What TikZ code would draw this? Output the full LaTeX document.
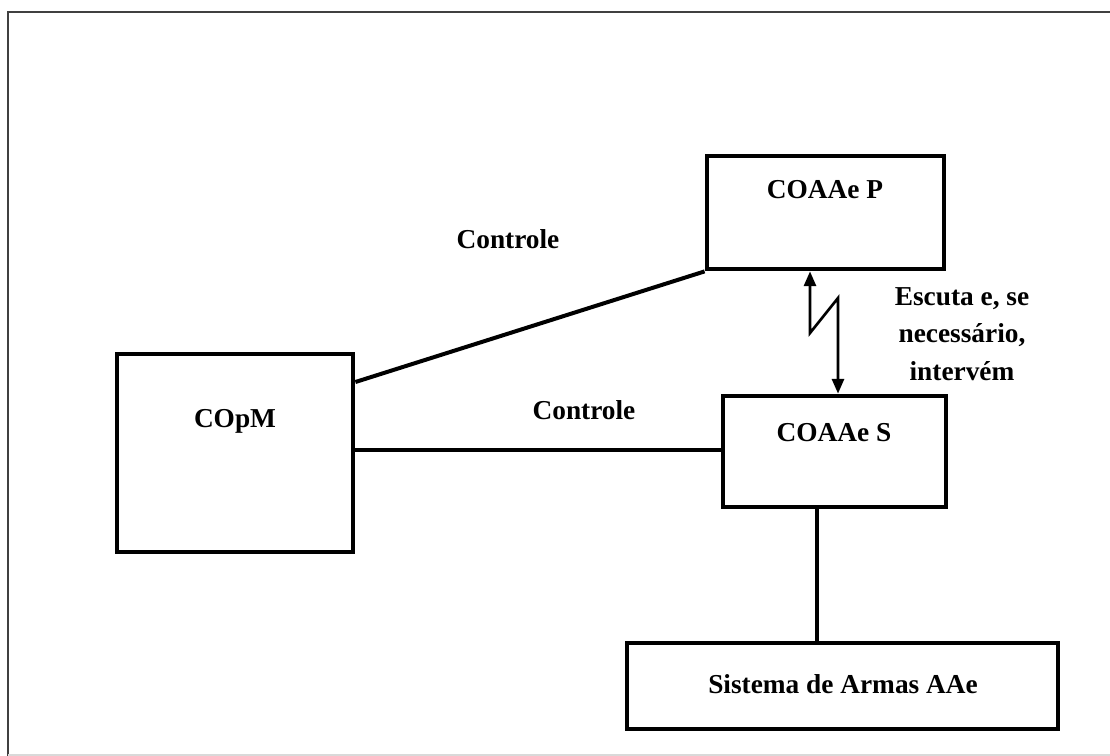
\documentclass[tikz,border=0pt]{standalone}
\usepackage{fontspec}
\setmainfont{Liberation Serif}
\usetikzlibrary{
  arrows.meta,
  calc,
  fit
}

\begin{document}
\begin{tikzpicture}[x=0.75pt,y=-0.75pt,
	box/.style={draw,line width=3.6pt,inner sep=0pt},
	link/.style={line width=3pt},
	zap/.style={line width=2pt,{Triangle[width=9pt,length=11pt]}-{Triangle[width=9pt,length=11pt]}},
	lbl/.style={anchor=base,font=\fontsize{20.5}{28}\selectfont\bfseries},
]
	\useasboundingbox (0,0) rectangle (1110,756);
	% frame round the drawing
	\draw[line width=1.6pt,black!75] (8,756) -- (8,12) -- (1110,12);
	\draw[line width=1pt,black!15] (8,755) -- (1110,755);

	% boxes
	\node[box,fit={(117,354) (353,552)}] (COpM) {};
	\node[box,fit={(707,156) (944,269)}] (COAAeP) {};
	\node[box,fit={(723,396) (946,507)}] (COAAeS) {};
	\node[box,fit={(627,643) (1058,729)}] (Armas) {};

	\node[lbl] (tCOpM) at (235,427) {COpM};
	\node[lbl] (tCOAAeP) at (825,199) {COAAe P};
	\node[lbl] (tCOAAeS) at (834,441) {COAAe S};
	\node[lbl] (tArmas) at (843,693) {Sistema de Armas AAe};

	% connectors
	\draw[link] ($(COpM.north east)!0.15!(COpM.south east)$) -- (COAAeP.south west);
	\draw[link] (COpM.east |- 0,450) -- (COAAeS.west |- 0,450);
	\draw[link] (817,0 |- COAAeS.south) -- (817,0 |- Armas.north);
	\draw[zap] (810,0 |- COAAeP.south) -- (810,333) -- (838,298) -- (838,0 |- COAAeS.north);

	\node[lbl] (ctrlP) at (508,248) {Controle};
	\node[lbl] (ctrlS) at (584,419) {Controle};
	% base of a multi-line node sits on its last line
	\node[lbl,align=center] (escuta) at (962,380) {Escuta e, se\\necessário,\\intervém};
\end{tikzpicture}
\end{document}
